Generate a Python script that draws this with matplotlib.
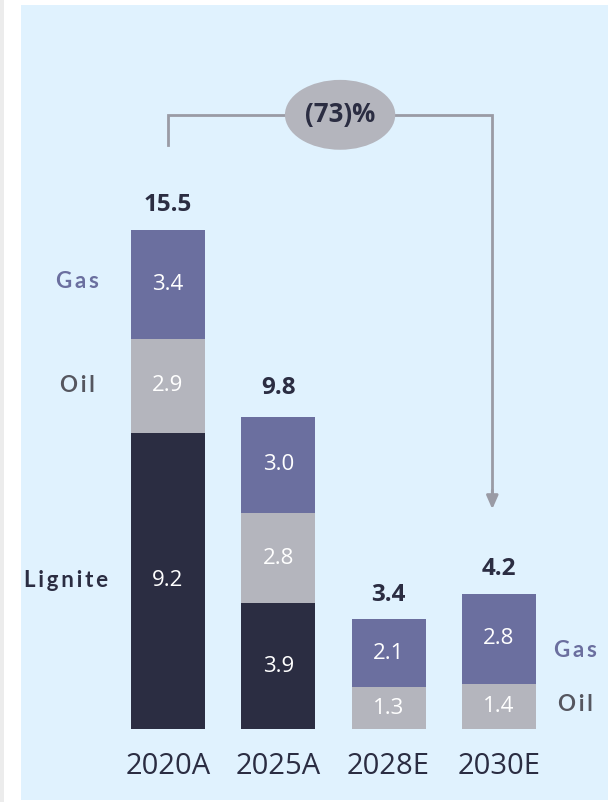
import numpy as np
import matplotlib
matplotlib.use("Agg")
import matplotlib.pyplot as plt
from matplotlib.patches import Ellipse, Rectangle

years = ["2020A", "2025A", "2028E", "2030E"]
lignite = [9.2, 3.9, 0.0, 0.0]
oil = [2.9, 2.8, 1.3, 1.4]
gas = [3.4, 3.0, 2.1, 2.8]
totals = [15.5, 9.8, 3.4, 4.2]
change = "(73)%"

c_lig = "#2b2d42"
c_oil = "#b4b5bd"
c_gas = "#6b6f9f"
c_bg = "#e0f2fe"
c_line = "#9a9ba5"

plt.rcParams['font.family'] = ['Open Sans', 'DejaVu Sans']

fig = plt.figure(figsize=(6.08, 8.02), dpi=100)
fig.patch.set_facecolor("white")
fig.patches.append(Rectangle((0, 0), 4/608, 1, transform=fig.transFigure,
                             facecolor="#ececec", edgecolor="none"))

ax = fig.add_axes([21/608, 2/802, 587/608, 795/802])
ax.set_facecolor(c_bg)
for s in ax.spines.values():
    s.set_visible(False)
ax.set_xticks([])
ax.set_yticks([])
ax.set_xlim(-1.333, 3.989)
ax.set_ylim(-2.205, 22.48)

x = np.arange(len(years))
w = 0.67
lig = np.array(lignite)
oi = np.array(oil)
ga = np.array(gas)
ax.bar(x, lig, w, color=c_lig)
ax.bar(x, oi, w, bottom=lig, color=c_oil)
ax.bar(x, ga, w, bottom=lig + oi, color=c_gas)

# segment values
for i in range(len(years)):
    if lig[i] > 0:
        ax.text(x[i], lig[i] / 2, f"{lig[i]:.1f}", ha="center", va="center",
                color="white", fontsize=16)
    ax.text(x[i], lig[i] + oi[i] / 2, f"{oi[i]:.1f}", ha="center", va="center",
            color="white", fontsize=16)
    ax.text(x[i], lig[i] + oi[i] + ga[i] / 2, f"{ga[i]:.1f}", ha="center",
            va="center", color="white", fontsize=16)
    ax.text(x[i], totals[i] + 0.4, f"{totals[i]:.1f}", ha="center",
            va="bottom", color=c_lig, fontsize=17.5, fontweight="bold")
    ax.text(x[i], -1.18, years[i], ha="center", va="center", color=c_lig,
            fontsize=21)

# series labels, slightly letter-spaced
ts = "\u2009"
lab = dict(fontsize=16, fontweight="bold", ha="center", va="center",
           family=['Lato', 'DejaVu Sans'])
ax.text(-0.82, lig[0] + oi[0] + ga[0] / 2 + 0.1, ts.join("Gas"), color=c_gas, **lab)
ax.text(-0.82, lig[0] + oi[0] / 2, ts.join("Oil"), color="#55565f", **lab)
ax.text(-0.92, lig[0] / 2, ts.join("Lignite"), color=c_lig, **lab)
ax.text(3.69, oi[3] + ga[3] / 2 - 0.35, ts.join("Gas"), color=c_gas, **lab)
ax.text(3.69, oi[3] / 2 + 0.05, ts.join("Oil"), color="#55565f", **lab)

# bracket with arrow
yb = 19.07
ax.plot([0, 0, 2.94, 2.94], [18.14, yb, yb, 7.3], color=c_line, lw=2,
        solid_joinstyle="miter")
ax.annotate("", xy=(2.94, 6.74), xytext=(2.94, 7.5),
            arrowprops=dict(arrowstyle="-|>,head_width=0.35,head_length=0.8",
                            color=c_line, lw=2))
ax.add_patch(Ellipse((1.56, yb), 1.0, 2.17, facecolor=c_oil, edgecolor="none",
                     zorder=3))
ax.text(1.56, yb, change, ha="center", va="center", color=c_lig, fontsize=18.5,
        fontweight="bold", zorder=4)

fig.savefig("out.png", dpi=100, facecolor="white")
